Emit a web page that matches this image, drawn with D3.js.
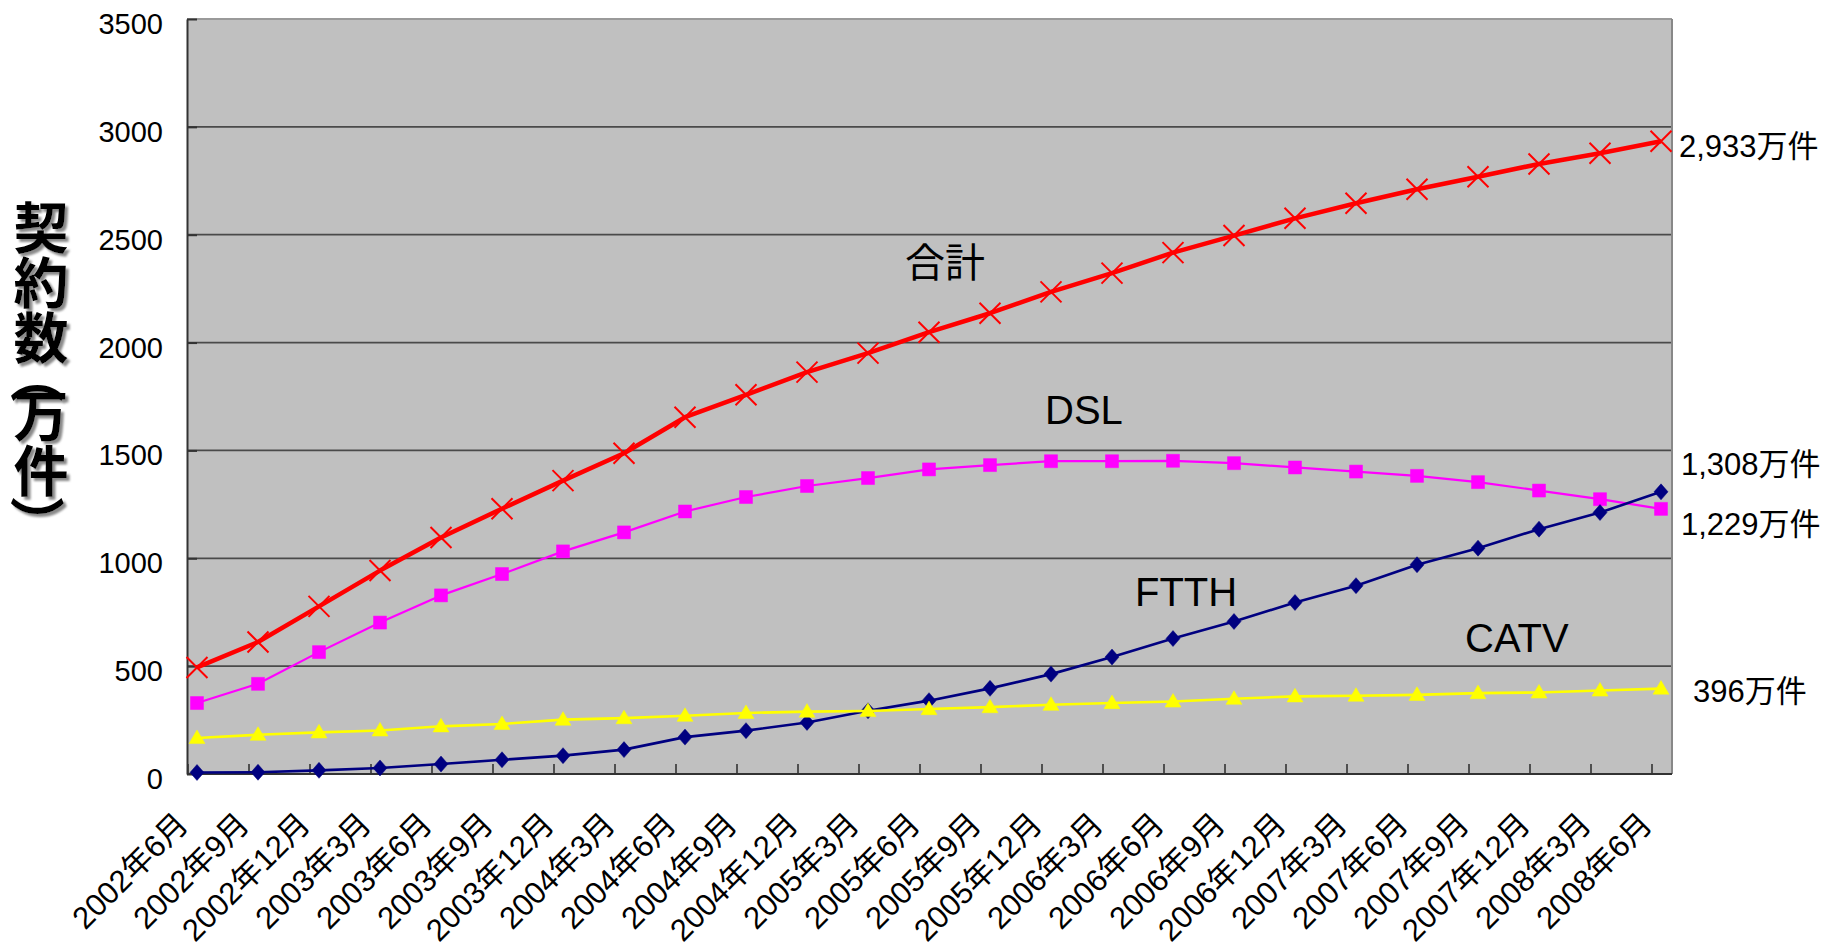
<!DOCTYPE html>
<html>
<head>
<meta charset="utf-8">
<script src="https://cdn.jsdelivr.net/npm/d3@7"></script>
<style>
  html, body { margin: 0; padding: 0; background: #ffffff; }
  svg { display: block; }
  text { font-family: "Liberation Sans", Arial, "Noto Sans CJK JP", sans-serif; fill: #000; }
</style>
</head>
<body>
<svg id="chart" width="1827" height="945"></svg>
<script>
// Quarterly broadband subscriptions (万件), June 2002 – June 2008
const categories = [
  "2002年6月","2002年9月","2002年12月","2003年3月","2003年6月","2003年9月","2003年12月",
  "2004年3月","2004年6月","2004年9月","2004年12月","2005年3月","2005年6月","2005年9月",
  "2005年12月","2006年3月","2006年6月","2006年9月","2006年12月","2007年3月","2007年6月",
  "2007年9月","2007年12月","2008年3月","2008年6月"
];
const totalValues = [494, 612, 777, 943, 1096, 1230, 1360, 1487, 1654, 1758, 1863, 1951, 2048,
  2136, 2235, 2322, 2417, 2496, 2576, 2646, 2711, 2769, 2828, 2878, 2933];
const dslValues = [329, 418, 565, 702, 828, 927, 1032, 1120, 1217, 1284, 1335, 1372, 1412,
  1432, 1450, 1450, 1452, 1441, 1421, 1402, 1382, 1353, 1314, 1274, 1229];
const ftthValues = [7, 8, 17, 28, 46, 66, 85, 113, 171, 201, 239, 293, 340,
  397, 463, 542, 628, 707, 795, 873, 970, 1047, 1135, 1212, 1308];
const catvValues = [167, 182, 193, 202, 221, 232, 252, 259, 270, 283, 289, 292, 301,
  310, 321, 329, 336, 349, 360, 363, 367, 375, 378, 387, 396];
const yTicks = [0, 500, 1000, 1500, 2000, 2500, 3000, 3500];
const seriesNames = ["合計", "DSL", "FTTH", "CATV"];
const axisTitleParts = ["契約数", "（", "万件", "）"];
const unit = "万件";

const svg = d3.select("#chart");
const plot = { left: 187, right: 1672, top: 19, bottom: 774 };

const x = d3.scalePoint()
  .domain(categories)
  .range([plot.left + 10, plot.right - 11]);
const tickShift = 9.5;
const xTickScale = x.copy().range(x.range().map(v => v - tickShift));
const y = d3.scaleLinear().domain([0, 3500]).range([plot.bottom, plot.top]);

// shadow used by the vertical axis title
const defs = svg.append("defs");
const shadow = defs.append("filter").attr("id", "titleShadow")
  .attr("x", "-30%").attr("y", "-30%").attr("width", "160%").attr("height", "160%");
shadow.append("feDropShadow").attr("dx", 3).attr("dy", 3)
  .attr("stdDeviation", 0.8).attr("flood-color", "#8a8a8a").attr("flood-opacity", 1);

// plot background
svg.append("rect")
  .attr("x", plot.left).attr("y", plot.top)
  .attr("width", plot.right - plot.left).attr("height", plot.bottom - plot.top)
  .attr("fill", "#c0c0c0");

// horizontal gridlines
svg.append("g").selectAll("line").data(yTicks.filter(t => t > 0 && t < 3500)).join("line")
  .attr("x1", plot.left).attr("x2", plot.right)
  .attr("y1", d => y(d)).attr("y2", d => y(d))
  .attr("stroke", "#4a4a4a").attr("stroke-width", 1.8);

// top and right frame
svg.append("line").attr("x1", plot.left).attr("x2", plot.right)
  .attr("y1", plot.top).attr("y2", plot.top)
  .attr("stroke", "#9a9a9a").attr("stroke-width", 1.8);
svg.append("line").attr("x1", plot.right).attr("x2", plot.right)
  .attr("y1", plot.top).attr("y2", plot.bottom)
  .attr("stroke", "#888888").attr("stroke-width", 2);

// y axis
const yAxis = svg.append("g")
  .attr("transform", `translate(${plot.left},0)`)
  .call(d3.axisLeft(y).tickValues(yTicks).tickSizeInner(-10).tickSizeOuter(0).tickPadding(24).tickFormat(d3.format("d")));
yAxis.select(".domain").attr("stroke", "#333").attr("stroke-width", 2);
yAxis.selectAll(".tick line").attr("stroke", "#333").attr("stroke-width", 2);
yAxis.selectAll(".tick text")
  .attr("dy", "0.5em")
  .style("font-size", "29px")
  .style("font-family", "'Liberation Sans', Arial, sans-serif");

// x axis
const xAxis = svg.append("g")
  .attr("transform", `translate(0,${plot.bottom})`)
  .call(d3.axisBottom(xTickScale).tickSizeInner(-10).tickSizeOuter(0));
xAxis.select(".domain").attr("stroke", "#333").attr("stroke-width", 2)
  .attr("d", `M${plot.left},0H${plot.right}`);
xAxis.selectAll(".tick line").attr("stroke", "#333").attr("stroke-width", 1.6);
xAxis.selectAll(".tick text")
  .attr("x", 2).attr("y", 52).attr("dy", 0)
  .attr("transform", "rotate(-45 2 52)")
  .style("text-anchor", "end")
  .style("font-size", "31px")
  .style("font-family", "'Liberation Sans', Arial, 'Noto Sans CJK JP', sans-serif");

// marker shapes
const markerPaths = {
  square: s => `M${-s},${-s}H${s}V${s}H${-s}Z`,
  diamond: s => `M0,${-s - 1}L${s},0L0,${s + 1}L${-s},0Z`,
  triangle: s => `M0,${-s - 1}L${s + 1},${s * 0.8}L${-s - 1},${s * 0.8}Z`,
  cross: s => `M${-s},${-s}L${s},${s}M${-s},${s}L${s},${-s}`
};

const series = [
  { name: "DSL", values: dslValues, color: "#ff00ff", width: 2.2, marker: "square", size: 6.5 },
  { name: "FTTH", values: ftthValues, color: "#000080", width: 2.6, marker: "diamond", size: 7 },
  { name: "CATV", values: catvValues, color: "#ffff00", width: 2.6, marker: "triangle", size: 7 },
  { name: "合計", values: totalValues, color: "#ff0000", width: 4.5, marker: "cross", size: 10.5 }
];

const line = d3.line().x((d, i) => x(categories[i])).y(d => y(d));

series.forEach(s => {
  const g = svg.append("g").attr("class", "series");
  g.append("path")
    .attr("d", line(s.values))
    .attr("fill", "none")
    .attr("stroke", s.color)
    .attr("stroke-width", s.width)
    .attr("stroke-linejoin", "round");
  g.selectAll("path.marker").data(s.values).join("path")
    .attr("class", "marker")
    .attr("transform", (d, i) => `translate(${x(categories[i])},${y(d)})`)
    .attr("d", markerPaths[s.marker](s.size))
    .attr("fill", s.marker === "cross" ? "none" : s.color)
    .attr("stroke", s.color)
    .attr("stroke-width", s.marker === "cross" ? 2 : 0.5);
});

// series name labels
const nameLabels = [
  { text: seriesNames[0], x: 905, y: 277 },
  { text: seriesNames[1], x: 1045, y: 424 },
  { text: seriesNames[2], x: 1135, y: 606 },
  { text: seriesNames[3], x: 1465, y: 652 }
];
svg.append("g").selectAll("text").data(nameLabels).join("text")
  .attr("x", d => d.x).attr("y", d => d.y)
  .style("font-size", "40px")
  .style("font-family", "'Liberation Sans', Arial, 'Noto Sans CJK JP', sans-serif")
  .text(d => d.text);

// end-of-line value labels
const lastIdx = categories.length - 1;
const endLabels = [
  { v: totalValues[lastIdx], dx: 18, dy: 15.5 },
  { v: ftthValues[lastIdx], dx: 20, dy: -17 },
  { v: dslValues[lastIdx], dx: 20, dy: 26 },
  { v: catvValues[lastIdx], dx: 32, dy: 13 }
];
const fmt = d3.format(",");
svg.append("g").selectAll("text").data(endLabels).join("text")
  .attr("x", d => x(categories[lastIdx]) + d.dx)
  .attr("y", d => y(d.v) + d.dy)
  .style("font-size", "31px")
  .style("font-family", "'Liberation Sans', Arial, 'Noto Sans CJK JP', sans-serif")
  .text(d => fmt(d.v) + unit);

// vertical axis title: words run top-to-bottom, brackets turned a quarter
const titleX = 41;
const titleLayout = [
  { kind: "word", pos: 200 },     // top of the word
  { kind: "bracket", pos: 376 },  // centre of the turned bracket
  { kind: "word", pos: 388 },
  { kind: "bracket", pos: 523 }
];
const titleG = svg.append("g").attr("filter", "url(#titleShadow)");
axisTitleParts.forEach((part, i) => {
  const spec = titleLayout[i];
  const t = titleG.append("text")
    .style("font-size", "55px")
    .style("font-weight", "700")
    .style("font-family", "'Noto Sans CJK JP', sans-serif")
    .text(part);
  if (spec.kind === "word") {
    t.attr("x", titleX).attr("y", spec.pos).style("writing-mode", "vertical-rl");
  } else {
    t.attr("x", titleX).attr("y", spec.pos)
      .attr("text-anchor", "middle")
      .attr("dominant-baseline", "central")
      .attr("transform", `rotate(90 ${titleX} ${spec.pos})`);
  }
});
</script>
</body>
</html>
